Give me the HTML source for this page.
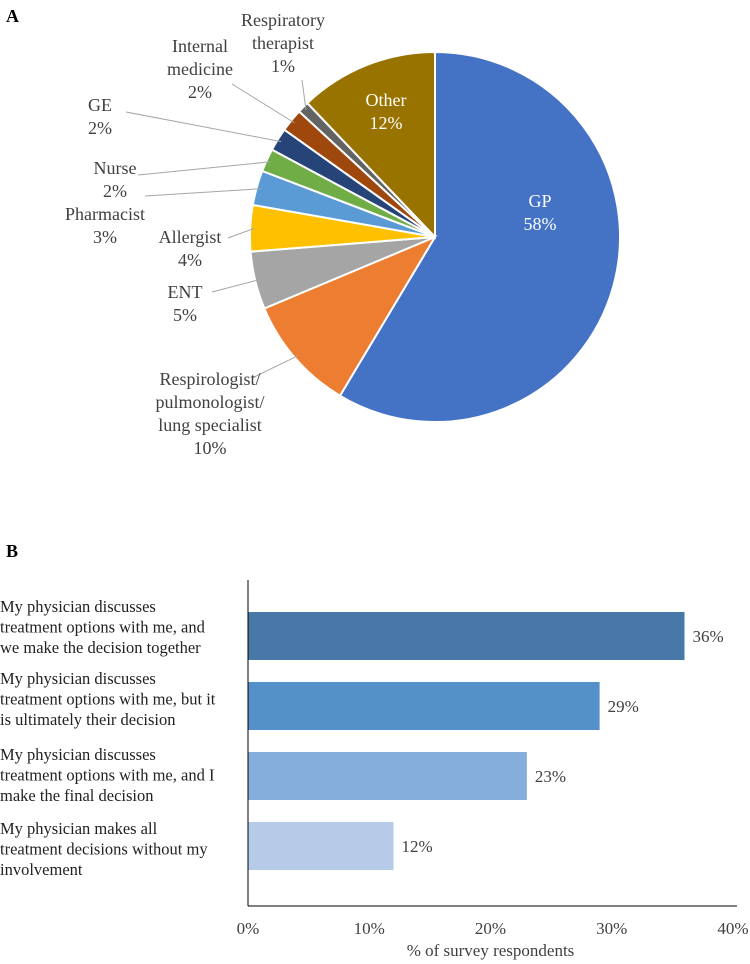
<!DOCTYPE html>
<html><head><meta charset="utf-8"><style>
html,body{margin:0;padding:0;background:#fff;}
svg{display:block;font-family:"Liberation Serif",serif;}
</style></head><body>
<svg id="chart" width="750" height="964" viewBox="0 0 750 964">
<text x="6" y="22" font-size="18" font-weight="bold">A</text>
<text x="6" y="557" font-size="18" font-weight="bold">B</text>
<g id="pie"></g>
<g id="bars"></g>
</svg>
<script>
const pieCategories=["GP","Respirologist/ pulmonologist/ lung specialist","ENT","Allergist","Pharmacist","Nurse","GE","Internal medicine","Respiratory therapist","Other"];
const pieValues=[58,10,5,4,3,2,2,2,1,12];
const pieColors=["#4472c4","#ed7d31","#a5a5a5","#ffc000","#5b9bd5","#70ad47","#264478","#9e480e","#636363","#997300"];
const barCategories=[["My physician discusses","treatment options with me, and","we make the decision together"],["My physician discusses","treatment options with me, but it","is ultimately their decision"],["My physician discusses","treatment options with me, and I","make the final decision"],["My physician makes all","treatment decisions without my","involvement"]];
const barValues=[36,29,23,12];
const barColors=["#4878a8","#5591c9","#85aedc","#b6cbe7"];
const xTicks=[0,10,20,30,40];

const NS="http://www.w3.org/2000/svg";
function mk(tag,attrs,parent){const e=document.createElementNS(NS,tag);for(const k in attrs)e.setAttribute(k,attrs[k]);parent.appendChild(e);return e;}
const pie=document.getElementById('pie');
const cx=435,cy=237,R=185;
const total=pieValues.reduce((a,b)=>a+b,0);
function pt(a,r){return [cx+r*Math.sin(a),cy-r*Math.cos(a)];}
let a0=0;const mids=[];
pieValues.forEach((v,i)=>{
  const a1=a0+v/total*2*Math.PI;
  const p0=pt(a0,R),p1=pt(a1,R);
  const large=(a1-a0)>Math.PI?1:0;
  const s=mk('path',{d:`M${cx},${cy}L${p0[0]},${p0[1]}A${R},${R} 0 ${large} 1 ${p1[0]},${p1[1]}Z`,fill:pieColors[i],stroke:'#fff','stroke-width':2},pie);
  
  
  mids.push((a0+a1)/2);a0=a1;
});
const labelSpecs=[
 [["GP","58%"],540,207,null,"#fff"],
 [["Respirologist/","pulmonologist/","lung specialist","10%"],210,385,[252,378],"#404040"],
 [["ENT","5%"],185,298,[212,292],"#404040"],
 [["Allergist","4%"],190,243,[228,238],"#404040"],
 [["Pharmacist","3%"],105,220,[145,196],"#404040"],
 [["Nurse","2%"],115,174,[138,175],"#404040"],
 [["GE","2%"],100,111,[126,112],"#404040"],
 [["Internal","medicine","2%"],200,52,[232,84],"#404040"],
 [["Respiratory","therapist","1%"],283,26,[302,80],"#404040"],
 [["Other","12%"],386,106,null,"#fff"]
];
labelSpecs.forEach((L,i)=>{
  if(L[3]){const e=pt(mids[i],R-4);
    const ln=mk('line',{x1:L[3][0],y1:L[3][1],x2:e[0],y2:e[1],stroke:'#a6a6a6','stroke-width':1},pie);
    
    }
  const t=mk('text',{x:L[1],y:L[2],'font-size':18,fill:L[4],'text-anchor':'middle'},pie);
  
  
  L[0].forEach((s,j)=>{const ts=mk('tspan',{x:L[1],y:L[2]+j*23},t);ts.textContent=s;});
});
const bars=document.getElementById('bars');
const x0=248,x1=733,xMax=40;
const xs=v=>x0+v/xMax*(x1-x0);
const rowTop=600,rowH=70,barH=48;
const labelOffsets=[0,2,8,12];
barValues.forEach((v,i)=>{
  const yTop=rowTop+i*rowH+12;
  const r=mk('rect',{x:x0,y:yTop,width:xs(v)-x0,height:barH,fill:barColors[i]},bars);
  
  
  const t=mk('text',{x:xs(v)+8,y:yTop+barH/2+6,'font-size':17,fill:'#404040'},bars);
  
  
  t.textContent=v+'%';
  const by=yTop+labelOffsets[i];
  const c=mk('text',{x:0,y:by,'font-size':16.5,fill:'#222'},bars);
  
  
  barCategories[i].forEach((s,j)=>{const ts=mk('tspan',{x:0,y:by+j*20.5},c);ts.textContent=s;});
});
const ya=mk('line',{x1:x0,y1:580,x2:x0,y2:906,stroke:'#000','stroke-width':1},bars);

const xa=mk('line',{x1:x0,y1:906,x2:x1+4,y2:906,stroke:'#000','stroke-width':1},bars);

xTicks.forEach(v=>{
  const t=mk('text',{x:xs(v),y:934,'font-size':17,fill:'#404040','text-anchor':'middle'},bars);
  
  
  t.textContent=v+'%';
});
const xt=mk('text',{x:(x0+x1)/2,y:956,'font-size':17,fill:'#404040','text-anchor':'middle'},bars);


xt.textContent='% of survey respondents';
</script>
</body></html>
